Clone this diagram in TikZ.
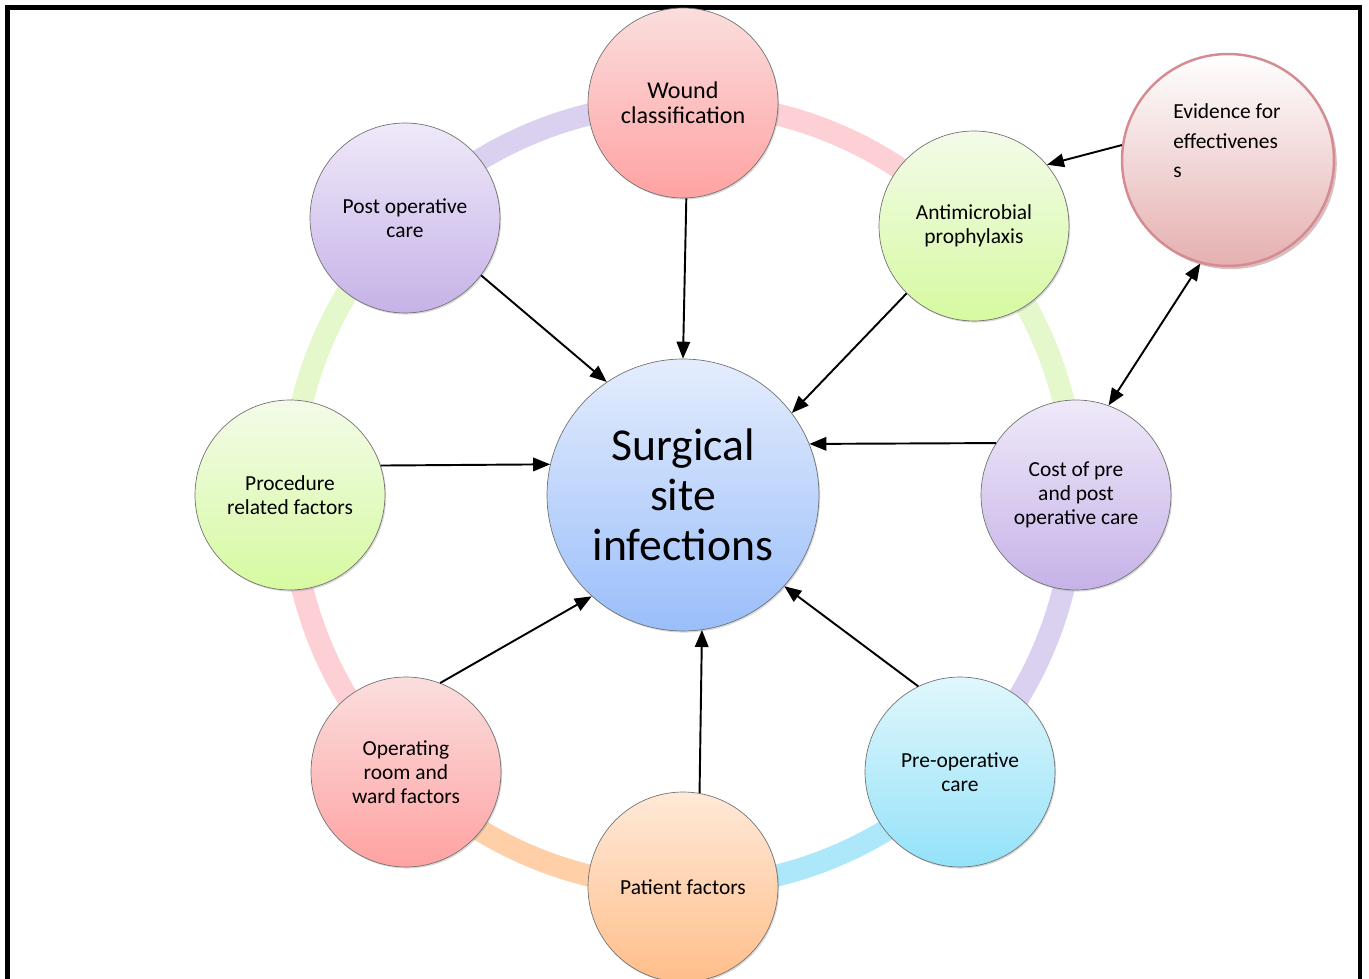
\documentclass[tikz,border=0pt]{standalone}
\usepackage{fontspec}
\setmainfont{Carlito}
\usetikzlibrary{arrows.meta,shadows}

\definecolor{pinkTop}{RGB}{251,222,222}
\definecolor{pinkBot}{RGB}{255,162,162}
\definecolor{greenTop}{RGB}{243,251,233}
\definecolor{greenBot}{RGB}{214,250,160}
\definecolor{lilacTop}{RGB}{239,233,249}
\definecolor{lilacBot}{RGB}{198,178,232}
\definecolor{peachTop}{RGB}{255,233,216}
\definecolor{peachBot}{RGB}{255,190,138}
\definecolor{cyanTop}{RGB}{224,247,252}
\definecolor{cyanBot}{RGB}{148,226,249}
\definecolor{blueTop}{RGB}{228,237,253}
\definecolor{blueBot}{RGB}{154,190,250}
\definecolor{pinkRing}{RGB}{252,208,212}
\definecolor{greenRing}{RGB}{228,248,204}
\definecolor{lilacRing}{RGB}{218,209,240}
\definecolor{cyanRing}{RGB}{172,232,250}
\definecolor{peachRing}{RGB}{255,207,168}
\definecolor{evRim}{RGB}{212,140,146}
\definecolor{evBot}{RGB}{229,176,176}

\tikzset{
  factor/.style={circle, draw=black!55, line width=0.4pt, minimum size=3.8cm,
    inner sep=1pt, align=center, font=\fontsize{12.2}{13.6}\selectfont,
    drop shadow={opacity=0.3, shadow xshift=0.7pt, shadow yshift=-0.9pt}},
  ring/.style={line width=0.44cm, draw=#1},
  link/.style={line width=1.1pt, -{Triangle[length=0.34cm,width=0.27cm]}},
}

\begin{document}
\begin{tikzpicture}[x=0.02cm, y=0.02cm]
\useasboundingbox (-683,-484) rectangle (686,495);
\draw[line width=2.3pt] (-675.5,-490) -- (-675.5,487.5) -- (677,487.5) -- (677,-490); % frame

% ring between the factors
\draw[ring=pinkRing] (90:392) arc[start angle=90, end angle=42.7, radius=7.84cm]; % wound - antimicrobial
\draw[ring=greenRing] (42.7:392) arc[start angle=42.7, end angle=0, radius=7.84cm]; % antimicrobial - cost
\draw[ring=lilacRing] (0:392) arc[start angle=0, end angle=-45, radius=7.84cm]; % cost - preop
\draw[ring=cyanRing] (-45:392) arc[start angle=-45, end angle=-90, radius=7.84cm]; % preop - patient
\draw[ring=peachRing] (-90:392) arc[start angle=-90, end angle=-135, radius=7.84cm]; % patient - operating
\draw[ring=pinkRing] (-135:392) arc[start angle=-135, end angle=-180, radius=7.84cm]; % operating - procedure
\draw[ring=greenRing] (180:392) arc[start angle=180, end angle=135, radius=7.84cm]; % procedure - postop
\draw[ring=lilacRing] (135:392) arc[start angle=135, end angle=90, radius=7.84cm]; % postop - wound

% factors
\node[factor, top color=pinkTop, bottom color=pinkBot, font=\fontsize{13.7}{14.2}\selectfont] (wound) at (0,392) {Wound\\classification};
\node[factor, top color=greenTop, bottom color=greenBot] (antimic) at (291,269) {Antimicrobial\\prophylaxis};
\node[factor, top color=lilacTop, bottom color=lilacBot] (cost) at (393,0) {Cost of pre\\and post\\operative care};
\node[factor, top color=cyanTop, bottom color=cyanBot] (preop) at (277,-277) {Pre-operative\\care};
\node[factor, top color=peachTop, bottom color=peachBot] (patient) at (0,-392) {Patient factors};
\node[factor, top color=pinkTop, bottom color=pinkBot] (oproom) at (-277,-277) {Operating\\room and\\ward factors};
\node[factor, top color=greenTop, bottom color=greenBot] (proced) at (-393,0) {Procedure\\related factors};
\node[factor, top color=lilacTop, bottom color=lilacBot] (postop) at (-278,277) {Post operative\\care};

% centre
\node[factor, minimum size=5.44cm, top color=blueTop, bottom color=blueBot,
  font=\fontsize{26}{28.4}\selectfont] (ssi) at (0,0) {Surgical\\site\\infections};

% evidence
\node[circle, draw=evRim, line width=1.4pt, minimum size=4.24cm, top color=white, bottom color=evBot,
  drop shadow={opacity=0.45, fill=evRim!80!black, shadow xshift=1.6pt, shadow yshift=-1.8pt}] (evid) at (545,335) {};
\node[anchor=north west, align=left, inner sep=0pt, font=\fontsize{12.2}{17}\selectfont] (evtext) at (490,392) {Evidence for\\effectivenes\\s};

% arrows
\draw[link] (postop.-37) -- (ssi.124);
\draw[link] (wound.-88) -- (ssi.90);
\draw[link] (antimic.-135) -- (ssi.37);
\draw[link] (evid.172) -- (antimic.40);
\draw[line width=1.1pt, {Triangle[length=0.34cm,width=0.27cm]}-{Triangle[length=0.34cm,width=0.27cm]}] (evid.-105) -- (cost.70);
\draw[link] (cost.147) -- (ssi.22);
\draw[link] (proced.18) -- (ssi.167);
\draw[link] (oproom.69) -- (ssi.-132);
\draw[link] (patient.80) -- (ssi.-82);
\draw[link] (preop.116) -- (ssi.-42);
\end{tikzpicture}
\end{document}
